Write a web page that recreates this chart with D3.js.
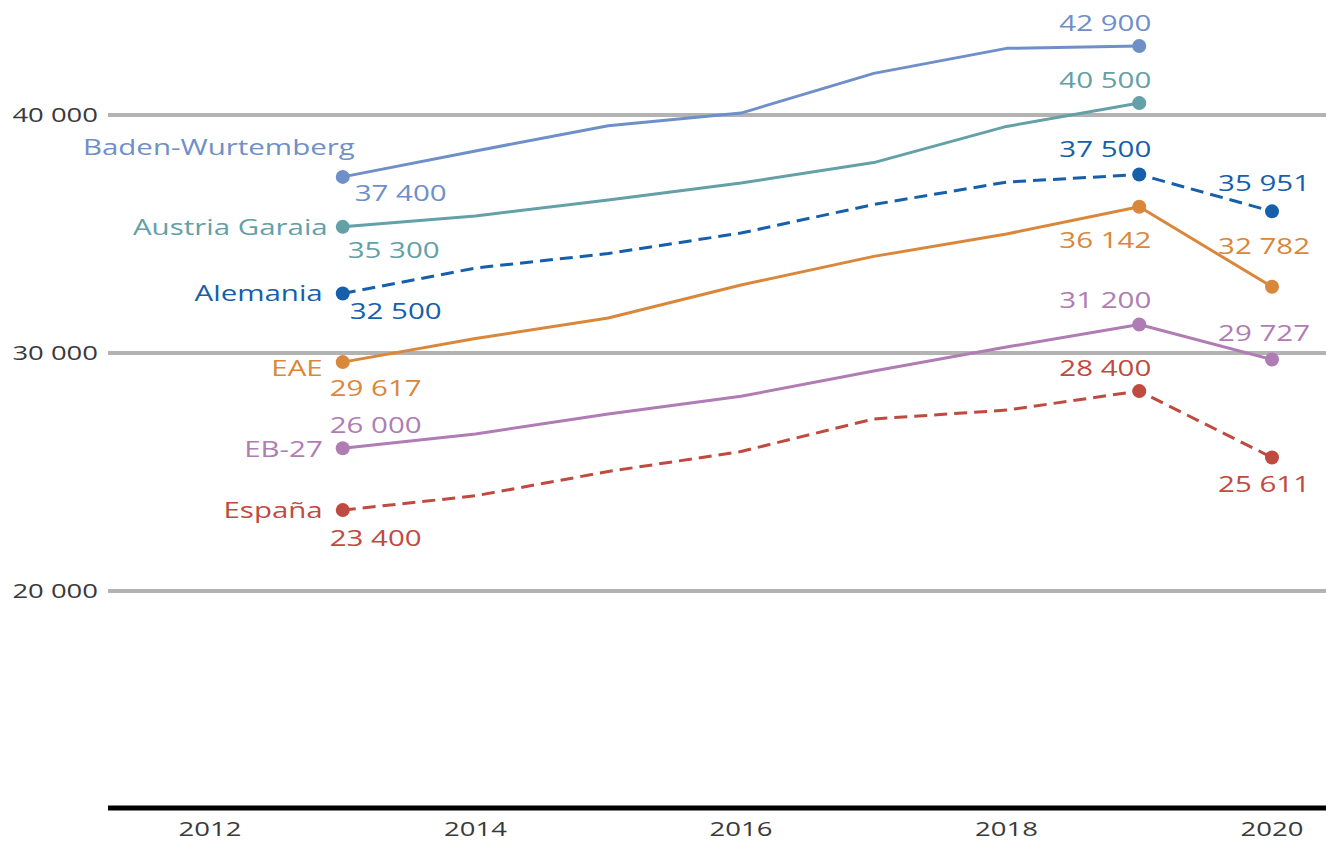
<!DOCTYPE html>
<html><head><meta charset="utf-8">
<script src="https://cdn.jsdelivr.net/npm/d3@7"></script>
<style>body{margin:0;background:#fff} text{font-family:"Open Sans",sans-serif}</style>
</head><body><svg id="c" width="1326" height="844"></svg>
<script>
// ---- data ----
const years = [2013, 2014, 2015, 2016, 2017, 2018, 2019, 2020];
const seriesNames = ["Baden-Wurtemberg", "Austria Garaia", "Alemania", "EAE", "EB-27", "España"];
const baden    = [37400, 38490, 39550, 40080, 41750, 42800, 42900, null];
const austria  = [35300, 35760, 36430, 37140, 38000, 39520, 40500, null];
const alemania = [32500, 33570, 34180, 35040, 36240, 37180, 37500, 35951];
const eae      = [29617, 30610, 31470, 32860, 34060, 35000, 36142, 32782];
const eb27     = [26000, 26600, 27440, 28180, 29240, 30250, 31200, 29727];
const espana   = [23400, 24000, 25020, 25860, 27230, 27600, 28400, 25611];
const markedYears = [2013, 2019, 2020];
const yTicks = [20000, 30000, 40000];
const xTicks = [2012, 2014, 2016, 2018, 2020];

// ---- styles / layout ----
const seriesValues = [baden, austria, alemania, eae, eb27, espana];
const colors = ["#6f8fc8", "#63a0a7", "#155fab", "#d9873a", "#b07cb4", "#bf4a3f"];
const dashed = [false, false, true, false, false, true];
const nameOff = [[12,-30],[-15,0],[-20,0],[-20,6],[-20,1],[-20,0]];
const valOff = [
  {2013:[12,16,"start"], 2019:[12,-23,"end"]},
  {2013:[5,23,"start"],  2019:[12,-23,"end"]},
  {2013:[7,18,"start"],  2019:[12,-25,"end"], 2020:[38,-28,"end"]},
  {2013:[-13,26,"start"],2019:[12,33,"end"],  2020:[38,-40,"end"]},
  {2013:[-13,-23,"start"],2019:[12,-24,"end"],2020:[38,-26,"end"]},
  {2013:[-13,28,"start"],2019:[12,-23,"end"], 2020:[38,27,"end"]}
];

const svg = d3.select("#c");
const x = d3.scaleLinear().domain([2012, 2020]).range([210, 1272]);
const y = d3.scaleLinear().domain([20000, 40000]).range([591, 115]);
const yBase = 10880;
const left = 108, right = 1326;
const SX = 1.34;
const loc = d3.formatLocale({decimal: ",", thousands: " ", grouping: [3], currency: ["", "€"]});
const fmt = loc.format(",d");

function stext(g, tx, ty, str, anchor, size, color) {
  return g.append("text")
    .attr("transform", `translate(${tx},${ty}) scale(${SX},1)`)
    .attr("text-anchor", anchor)
    .attr("dy", "0.35em")
    .attr("font-size", size)
    .attr("fill", color)
    .text(str);
}

const grid = svg.append("g");
yTicks.forEach(t => {
  grid.append("line").attr("x1", left).attr("x2", right)
    .attr("y1", y(t)).attr("y2", y(t))
    .attr("stroke", "#b3b3b3").attr("stroke-width", 4);
  stext(grid, 98, y(t), fmt(t), "end", 20.5, "#3a3a3a");
});
const ax = svg.append("g");
ax.append("line").attr("x1", left).attr("x2", right)
  .attr("y1", y(yBase)).attr("y2", y(yBase))
  .attr("stroke", "#000").attr("stroke-width", 5);
xTicks.forEach(t => stext(ax, x(t), 829, String(t), "middle", 20.5, "#3a3a3a"));

const line = d3.line()
  .defined(d => d.v != null)
  .x(d => x(d.year)).y(d => y(d.v))
  .curve(d3.curveLinear);

seriesValues.forEach((vals, i) => {
  const pts = years.map((yr, j) => ({year: yr, v: vals[j]}));
  const g = svg.append("g");
  g.append("path").datum(pts)
    .attr("d", line)
    .attr("fill", "none")
    .attr("stroke", colors[i])
    .attr("stroke-width", 3)
    .attr("stroke-linejoin", "round")
    .attr("stroke-dasharray", dashed[i] ? "13,7" : null);
  const marks = pts.filter(p => p.v != null && markedYears.includes(p.year));
  g.selectAll("circle").data(marks).join("circle")
    .attr("cx", d => x(d.year)).attr("cy", d => y(d.v)).attr("r", 7)
    .attr("fill", colors[i]);
  const first = marks[0];
  stext(g, x(first.year) + nameOff[i][0], y(first.v) + nameOff[i][1], seriesNames[i], "end", 22, colors[i]);
  marks.forEach(m => {
    const o = valOff[i][m.year];
    if (!o) return;
    stext(g, x(m.year) + o[0], y(m.v) + o[1], fmt(m.v), o[2], 22, colors[i]);
  });
});
</script></body></html>
